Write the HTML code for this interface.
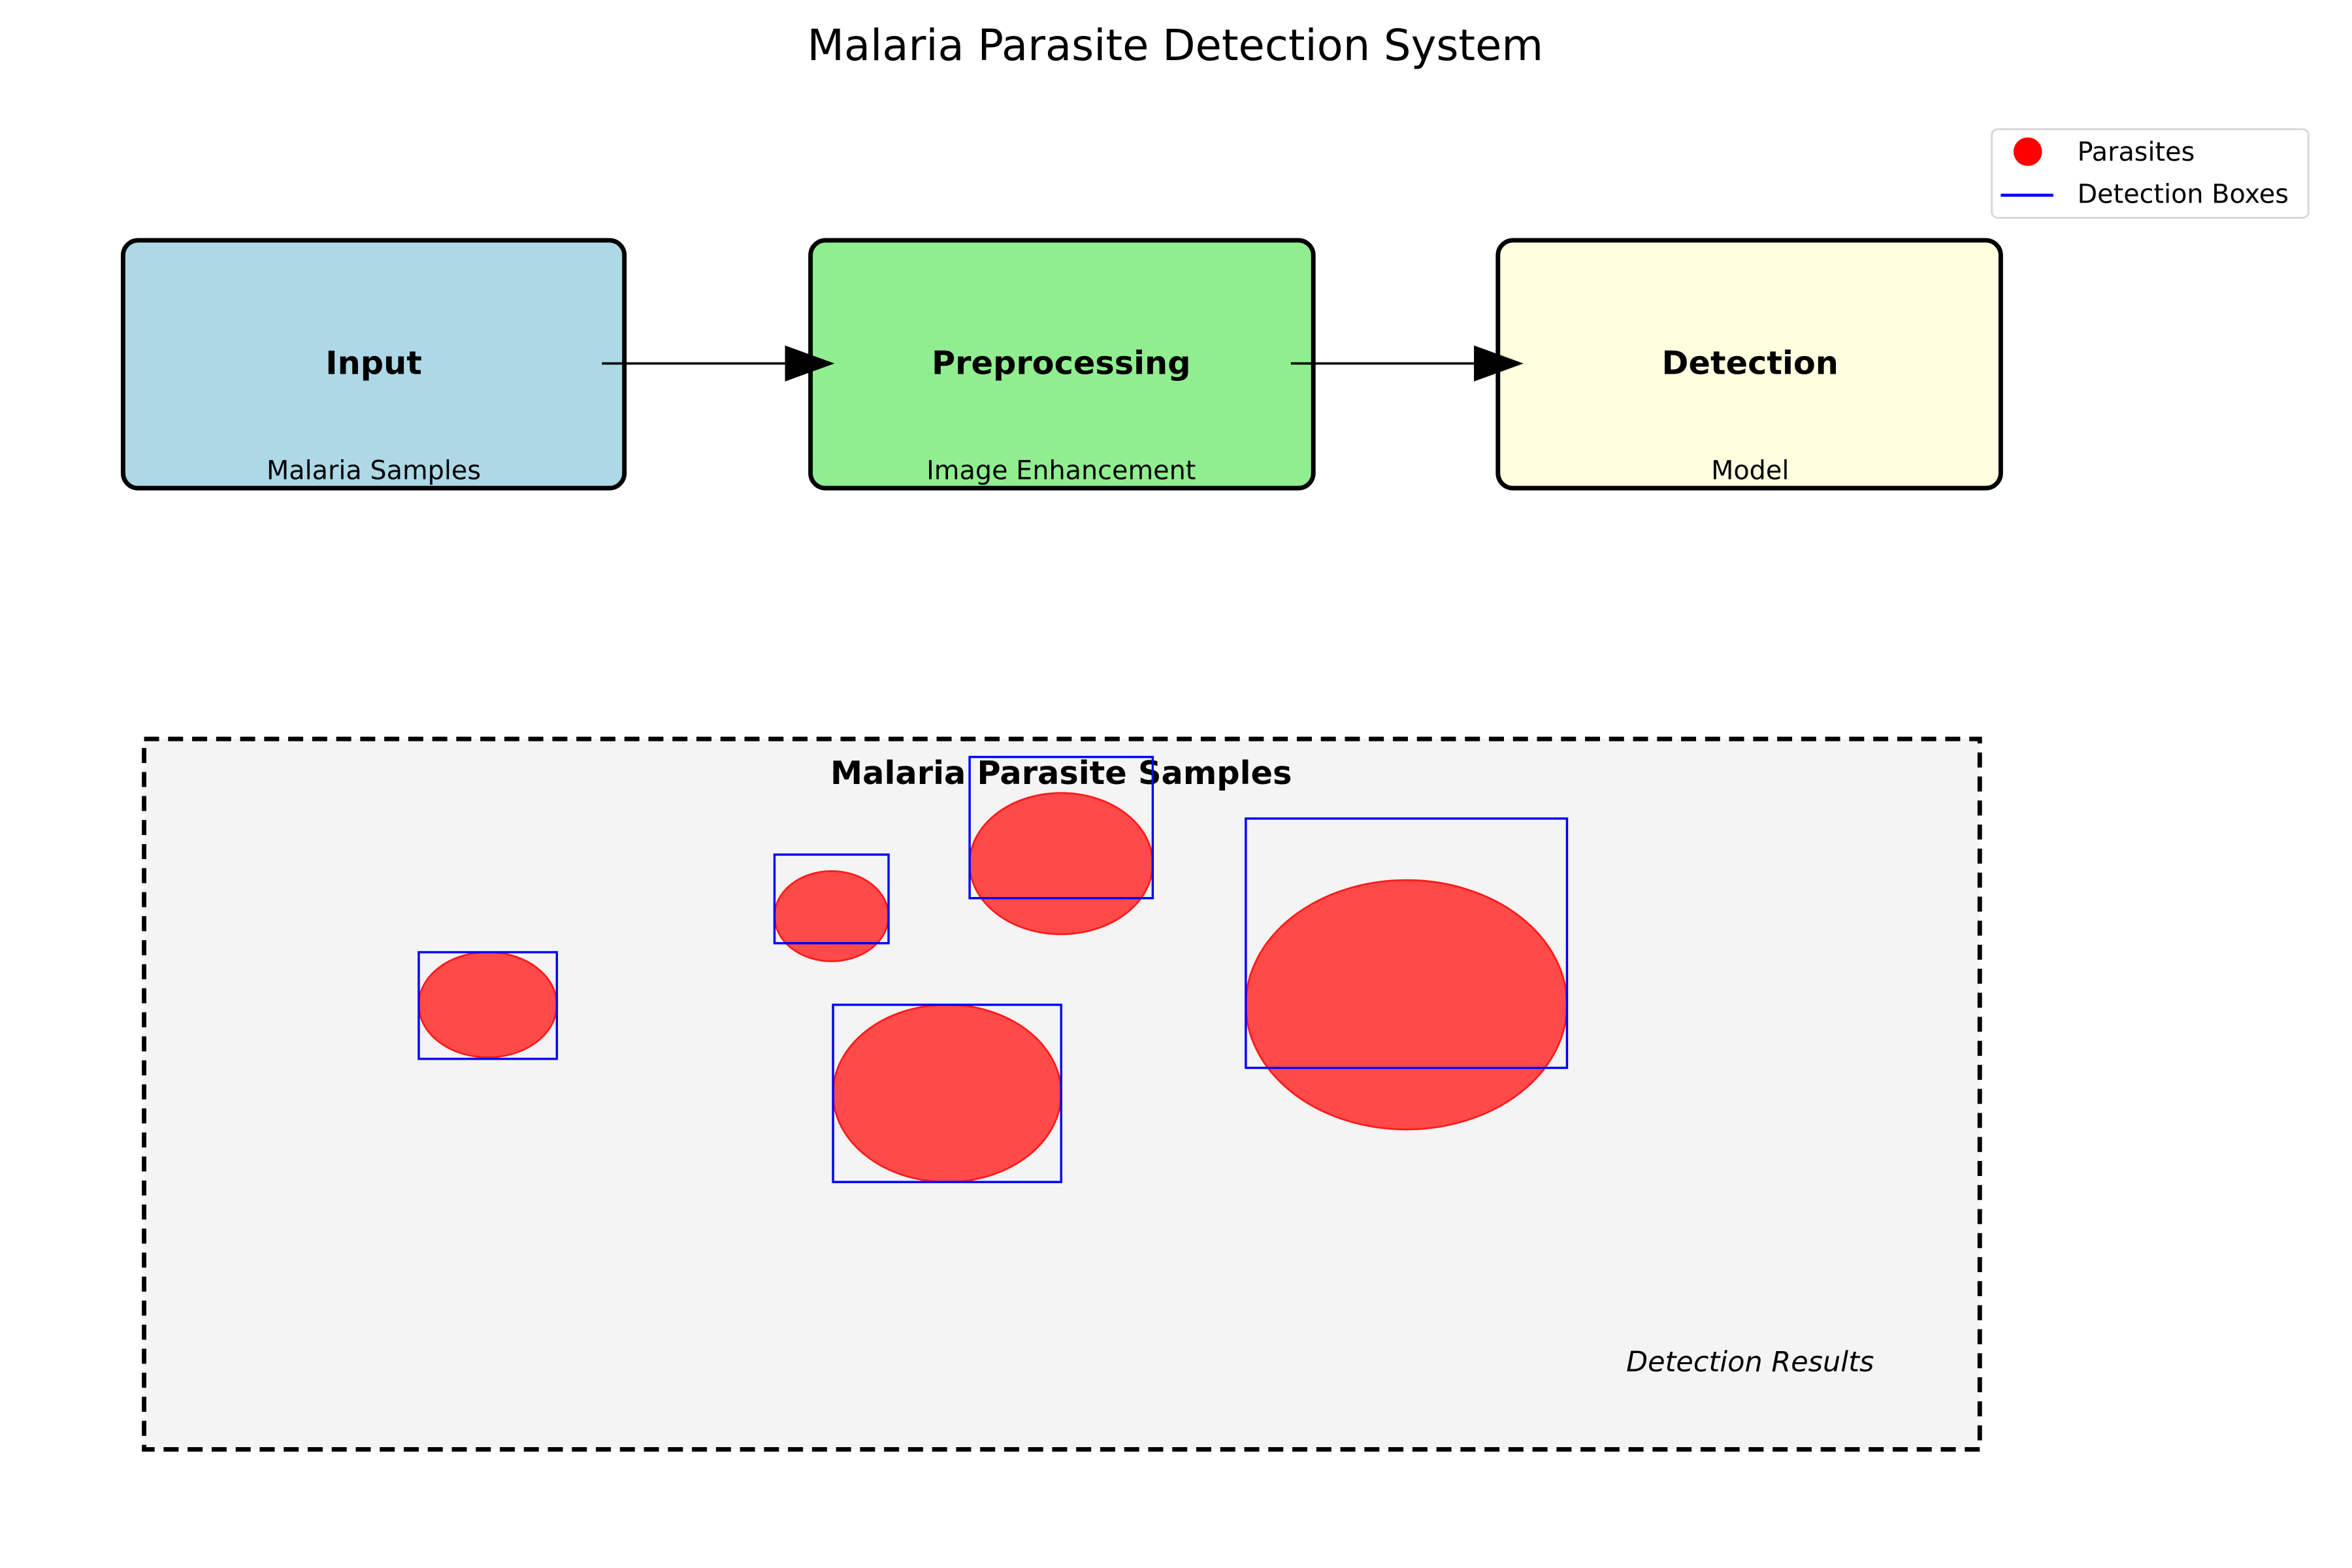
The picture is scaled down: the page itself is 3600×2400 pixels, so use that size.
<!DOCTYPE html>
<html><head><meta charset="utf-8"><style>html,body{margin:0;padding:0;background:#fff}svg{display:block}</style></head>
<body>
<svg width="3600" height="2400" viewBox="0 0 1567 1044" preserveAspectRatio="none" xmlns="http://www.w3.org/2000/svg" font-family="DejaVu Sans, Liberation Sans, sans-serif">
<rect width="1567" height="1044" fill="#fff"/>
<text x="783" y="40" font-size="28.5" text-anchor="middle">Malaria Parasite Detection System</text>

<rect x="82" y="160" width="334" height="165" rx="10" fill="#add8e6" stroke="#000" stroke-width="3"/>
<rect x="540" y="160" width="335" height="165" rx="10" fill="#90ee90" stroke="#000" stroke-width="3"/>
<rect x="998" y="160" width="335" height="165" rx="10" fill="#ffffe0" stroke="#000" stroke-width="3"/>
<g font-size="21.5" font-weight="bold" text-anchor="middle">
<text x="249" y="249">Input</text>
<text x="707" y="249">Preprocessing</text>
<text x="1166" y="249">Detection</text>
</g>
<g font-size="17.3" text-anchor="middle">
<text x="249" y="319">Malaria Samples</text>
<text x="707" y="319">Image Enhancement</text>
<text x="1166" y="319">Model</text>
</g>
<line x1="401" y1="242" x2="525" y2="242" stroke="#000" stroke-width="1.6"/>
<polygon points="523,230 556,242 523,254" fill="#000"/>
<line x1="860" y1="242" x2="984" y2="242" stroke="#000" stroke-width="1.6"/>
<polygon points="982,230 1015,242 982,254" fill="#000"/>

<rect x="1327" y="86" width="211" height="59" rx="4" fill="#fff" stroke="#d6d6d6" stroke-width="1.2"/>
<ellipse cx="1351" cy="101" rx="9.5" ry="9.5" fill="#f00"/>
<line x1="1333" y1="130" x2="1368" y2="130" stroke="#00f" stroke-width="2"/>
<text x="1384" y="107" font-size="17.3">Parasites</text>
<text x="1384" y="135" font-size="17.3">Detection Boxes</text>

<rect x="96" y="492" width="1223" height="473" fill="#f4f4f4" stroke="#000" stroke-width="3" stroke-dasharray="10,6"/>
<text x="707" y="522" font-size="21.5" font-weight="bold" text-anchor="middle">Malaria Parasite Samples</text>
<g fill="#ff4a4a" stroke="#ff1a1a" stroke-width="1.2">
<ellipse cx="325" cy="669" rx="46" ry="35"/>
<ellipse cx="554" cy="610" rx="38" ry="30"/>
<ellipse cx="707" cy="575" rx="61" ry="47"/>
<ellipse cx="631" cy="728" rx="76" ry="59"/>
<ellipse cx="937" cy="669" rx="107" ry="83"/>
</g>
<g fill="none" stroke="#00f" stroke-width="1.5">
<rect x="279" y="634" width="92" height="71"/>
<rect x="516" y="569" width="76" height="59"/>
<rect x="646" y="504" width="122" height="94"/>
<rect x="555" y="669" width="152" height="118"/>
<rect x="830" y="545" width="214" height="166"/>
</g>
<text x="1166" y="913" font-size="18.7" font-style="italic" text-anchor="middle">Detection Results</text>
</svg>
</body></html>
